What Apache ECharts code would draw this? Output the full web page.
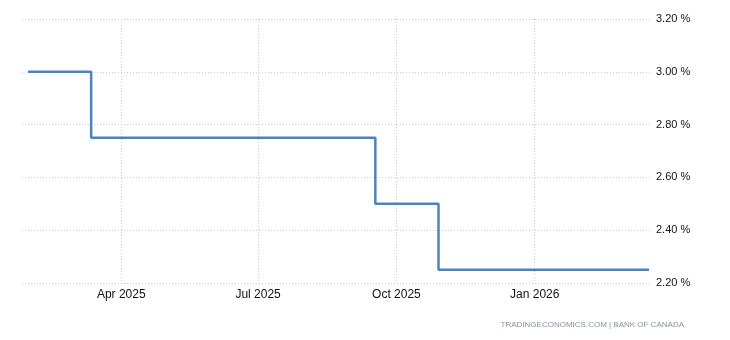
<!DOCTYPE html>
<html><head><meta charset="utf-8">
<script src="https://cdn.jsdelivr.net/npm/echarts@6/dist/echarts.min.js"></script>
<style>html,body{margin:0;padding:0;background:#fff}#c{width:730px;height:340px}</style>
</head><body><div id="c"></div>
<script>
const changeDates = ['2025-01-29','2025-03-12','2025-09-17','2025-10-29','2026-03-18'];
const rateValues = [3.00, 2.75, 2.50, 2.25, 2.25];
const xTickDates = ['2025-04-01','2025-07-01','2025-10-01','2026-01-01'];
const xTickLabels = ['Apr 2025','Jul 2025','Oct 2025','Jan 2026'];

const ts = d => { const p = d.split('-'); return Date.UTC(+p[0], +p[1]-1, +p[2]); };
const data = changeDates.map((d,i)=>[ts(d), rateValues[i]]);
const tickTs = xTickDates.map(ts);
const labelMap = {}; tickTs.forEach((t,i)=>labelMap[t]=xTickLabels[i]);

const chart = echarts.init(document.getElementById('c'));
const font = 'Liberation Sans, Arial, sans-serif';
chart.setOption({
  animation:false,
  grid:{left:22,right:78,top:19,bottom:57,containLabel:false},
  xAxis:{
    type:'value', min:ts('2025-01-25'), max:ts('2026-03-20'),
    axisLine:{show:false}, axisTick:{show:false, customValues:tickTs},
    axisLabel:{customValues:tickTs, formatter:v=>labelMap[v]||'', color:'#111', fontFamily:font, fontSize:12, margin:6},
    splitLine:{show:true, lineStyle:{color:'#cccccc', type:[1,2], width:1}}
  },
  yAxis:{
    type:'value', position:'right', min:2.2, max:3.2, interval:0.2,
    axisLine:{show:false}, axisTick:{show:false},
    axisLabel:{formatter:v=>v.toFixed(2)+' %', color:'#111', fontFamily:font, fontSize:11, margin:4},
    splitLine:{show:true, lineStyle:{color:'#cccccc', type:[1,2], width:1}}
  },
  series:[{type:'line', step:'end', data:data, showSymbol:false, symbol:'none',
    lineStyle:{color:'#4f81bd', width:2.5}}],
  graphic:[{type:'text', right:46, top:321, style:{text:'TRADINGECONOMICS.COM | BANK OF CANADA', fill:'#8a90a2', font:'8px '+font}}]
});
</script></body></html>
